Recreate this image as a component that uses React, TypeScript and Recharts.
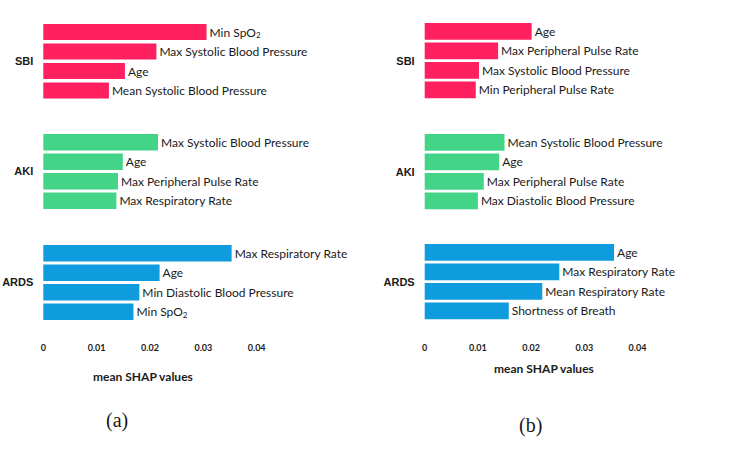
import React from "react";
import { BarChart, Bar, XAxis, YAxis, LabelList } from "recharts";

// panel (a)
const sbiFeaturesA = ["Min SpO2", "Max Systolic Blood Pressure", "Age", "Mean Systolic Blood Pressure"];
const sbiValuesA = [0.0306, 0.0212, 0.0153, 0.0123];
const akiFeaturesA = ["Max Systolic Blood Pressure", "Age", "Max Peripheral Pulse Rate", "Max Respiratory Rate"];
const akiValuesA = [0.0215, 0.0149, 0.014, 0.0137];
const ardsFeaturesA = ["Max Respiratory Rate", "Age", "Min Diastolic Blood Pressure", "Min SpO2"];
const ardsValuesA = [0.0353, 0.0218, 0.018, 0.0169];

// panel (b)
const sbiFeaturesB = ["Age", "Max Peripheral Pulse Rate", "Max Systolic Blood Pressure", "Min Peripheral Pulse Rate"];
const sbiValuesB = [0.0201, 0.0138, 0.0102, 0.0096];
const akiFeaturesB = ["Mean Systolic Blood Pressure", "Age", "Max Peripheral Pulse Rate", "Max Diastolic Blood Pressure"];
const akiValuesB = [0.015, 0.014, 0.0111, 0.01];
const ardsFeaturesB = ["Age", "Max Respiratory Rate", "Mean Respiratory Rate", "Shortness of Breath"];
const ardsValuesB = [0.0356, 0.0253, 0.0221, 0.0158];

const tickValues = [0, 0.01, 0.02, 0.03, 0.04];
const tickLabels = ["0", "0.01", "0.02", "0.03", "0.04"];

const COLORS = { SBI: "#FF2060", AKI: "#43D488", ARDS: "#0F9CDF" };

const toRows = (features: string[], values: number[]) =>
  features.map((feature, i) => ({ feature, value: values[i] }));

const FeatureLabel = (props: any) => {
  const { x, y, width, height, value } = props;
  const tx = Number(x) + Number(width) + 3;
  const ty = Number(y) + Number(height) / 2;
  const style = { fontFamily: "Lato", fontSize: 12, fill: "#1a1a1a" };
  if (typeof value === "string" && value.endsWith("SpO2")) {
    return (
      <text x={tx} y={ty} dominantBaseline="central" {...style}>
        {value.slice(0, -1)}
        <tspan dy={3} fontSize={8}>2</tspan>
      </text>
    );
  }
  return (
    <text x={tx} y={ty} dominantBaseline="central" {...style}>
      {value}
    </text>
  );
};

interface GroupProps {
  name: "SBI" | "AKI" | "ARDS";
  features: string[];
  values: number[];
  top: number;
  axisWidth: number;
  pxPer: number; // pixels per 0.01
  barSize: number;
  showAxis?: boolean;
}

const PLOT_H = 78;
const AXIS_H = 40;
const PANEL_W = 370;

function Group({ name, features, values, top, axisWidth, pxPer, barSize, showAxis }: GroupProps) {
  const data = toRows(features, values);
  const rightMargin = PANEL_W - axisWidth - 5 * pxPer;
  return (
    <div style={{ position: "absolute", left: 0, top }}>
      <BarChart
        width={PANEL_W}
        height={PLOT_H + (showAxis ? AXIS_H : 0)}
        data={data}
        layout="vertical"
        margin={{ top: 0, right: rightMargin, bottom: 0, left: 0 }}
        barSize={barSize}
      >
        <XAxis
          type="number"
          domain={[0, 0.05]}
          ticks={tickValues}
          tickFormatter={(v: number) => tickLabels[tickValues.indexOf(v)] ?? String(v)}
          hide={!showAxis}
          height={AXIS_H}
          axisLine={false}
          tickLine={false}
          tickMargin={18}
          tick={{ fontFamily: "Lato", fontWeight: 700, fontSize: 9, fill: "#1a1a1a" }}
        />
        <YAxis
          type="category"
          dataKey="feature"
          width={axisWidth}
          tick={false}
          axisLine={false}
          tickLine={false}
          label={{
            value: name,
            position: "insideRight",
            offset: 10,
            style: { fontFamily: "Liberation Sans", fontWeight: 700, fontSize: 11, fill: "#1a1a1a" },
          }}
        />
        <Bar dataKey="value" fill={COLORS[name]} isAnimationActive={false}>
          <LabelList dataKey="feature" content={<FeatureLabel />} />
        </Bar>
      </BarChart>
    </div>
  );
}

const textStyle: React.CSSProperties = { position: "absolute", whiteSpace: "nowrap", color: "#1a1a1a" };

export default function App() {
  return (
    <div style={{ position: "absolute", left: 0, top: 0, width: 731, height: 449, background: "#fff", overflow: "hidden" }}>
      <div style={{ position: "absolute", left: 0, top: 0, width: PANEL_W, height: 449 }}>
        <Group name="SBI" features={sbiFeaturesA} values={sbiValuesA} top={21.6} axisWidth={43.3} pxPer={53.35} barSize={16} />
        <Group name="AKI" features={akiFeaturesA} values={akiValuesA} top={131.8} axisWidth={43.3} pxPer={53.35} barSize={16.5} />
        <Group name="ARDS" features={ardsFeaturesA} values={ardsValuesA} top={242.6} axisWidth={43.3} pxPer={53.35} barSize={16.5} showAxis />
      </div>
      <div style={{ position: "absolute", left: 370, top: 0, width: PANEL_W, height: 449 }}>
        <Group name="SBI" features={sbiFeaturesB} values={sbiValuesB} top={22.4} axisWidth={54.7} pxPer={53.2} barSize={16.7} />
        <Group name="AKI" features={akiFeaturesB} values={akiValuesB} top={133.2} axisWidth={54.7} pxPer={53.2} barSize={16.7} />
        <Group name="ARDS" features={ardsFeaturesB} values={ardsValuesB} top={243.3} axisWidth={54.7} pxPer={53.2} barSize={16.7} showAxis />
      </div>
      <div style={{ ...textStyle, left: 93, top: 369, fontFamily: "Lato", fontWeight: 700, fontSize: 12 }}>mean SHAP values</div>
      <div style={{ ...textStyle, left: 494, top: 361, fontFamily: "Lato", fontWeight: 700, fontSize: 12 }}>mean SHAP values</div>
      <div style={{ ...textStyle, left: 106, top: 409, fontFamily: "Liberation Serif", fontSize: 20 }}>(a)</div>
      <div style={{ ...textStyle, left: 519, top: 414, fontFamily: "Liberation Serif", fontSize: 20 }}>(b)</div>
    </div>
  );
}
